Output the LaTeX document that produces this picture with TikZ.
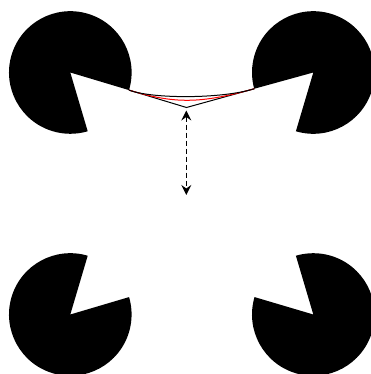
\documentclass[tikz,border=0pt]{standalone}
\usepackage{tikz}
\usetikzlibrary{arrows.meta,calc}

\begin{document}
\begin{tikzpicture}[x=1pt, y=1pt,
    pac/.style={fill=black},
    edge/.style={black, line width=1pt},
    contour/.style={line width=1pt},
    moveline/.style={dashed, dash pattern=on 5pt off 3pt, line width=1.3pt,
        {Stealth[length=10pt,width=10pt,inset=3.5pt]}-{Stealth[length=10pt,width=10pt,inset=3.5pt]}}]
    \useasboundingbox (0,0) rectangle (371,374);

    % Centres of the four inducers
    \coordinate (tl) at (70.3,301.5);
    \coordinate (tr) at (313.3,301.5);
    \coordinate (bl) at (70.3,59.5);
    \coordinate (br) at (313.3,59.5);

    % Inducers (pacman shapes)
    \fill[pac] (tl) -- ++(-16.7:61.3) arc[start angle=-16.7, end angle=286.5, radius=61.3] -- cycle;
    \fill[pac] (tr) -- ++(253.5:61.3) arc[start angle=253.5, end angle=555.4, radius=61.3] -- cycle;
    \fill[pac] (bl) -- ++(73.5:61.3) arc[start angle=73.5, end angle=376.5, radius=61.3] -- cycle;
    \fill[pac] (br) -- ++(163.5:61.3) arc[start angle=163.5, end angle=466.5, radius=61.3] -- cycle;

    % Top illusory edge
    \coordinate (tlend) at ($(tl)+(-16.7:61.3)$);
    \coordinate (trend) at ($(tr)+(195.4:61.3)$);
    \coordinate (apex) at (186.5,266.5);
    \draw[edge] (tlend) -- (apex) -- (trend);
    \draw[contour, red] (tlend) .. controls ($(tlend)!0.8!(apex)$) and ($(trend)!0.8!(apex)$) .. (trend);
    \draw[contour, black] (tlend) .. controls (152,275) and (222,275) .. (trend);

    % Displacement
    \coordinate (up) at (186.3,263.5);
    \coordinate (down) at (186.3,179);
    \draw[moveline] (up) -- (down);
\end{tikzpicture}
\end{document}
